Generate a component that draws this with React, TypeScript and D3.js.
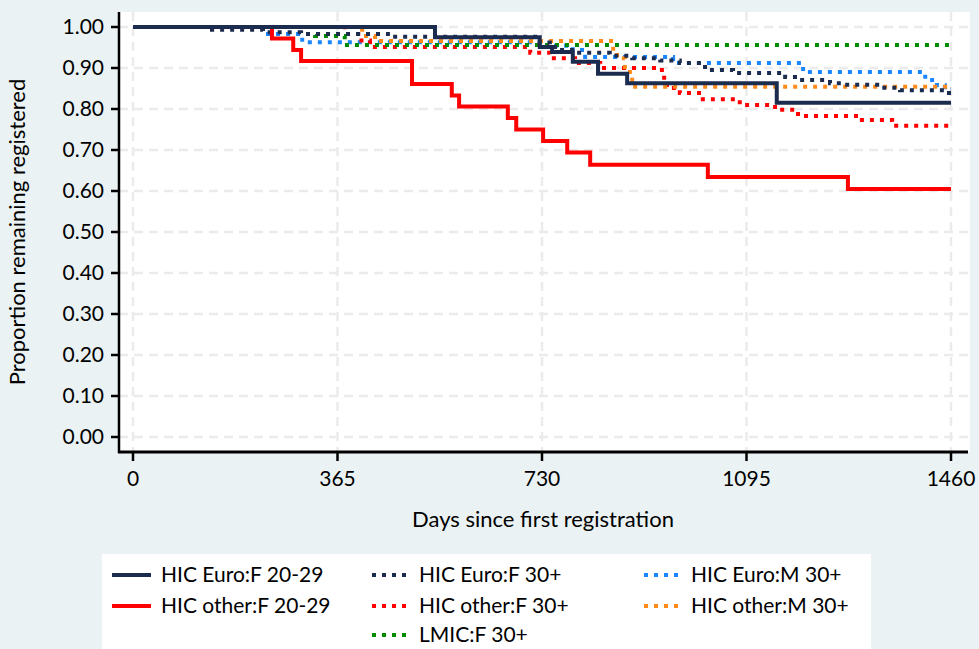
import React from "react"
import * as d3 from "d3"

// step points: [day, proportion] at each change
const hicEuroF2029: [number, number][] = [
  [0, 1], [539, 0.975], [726, 0.951], [748, 0.939], [785, 0.915], [830, 0.886], [882, 0.863], [1149, 0.815], [1460, 0.815],
]
const hicOtherF2029: [number, number][] = [
  [0, 1], [248, 0.972], [286, 0.944], [300, 0.917], [498, 0.861], [569, 0.833], [582, 0.806], [669, 0.778], [684, 0.75],
  [732, 0.722], [775, 0.694], [816, 0.664], [1026, 0.634], [1276, 0.605], [1460, 0.605],
]
const hicEuroF30: [number, number][] = [
  [0, 1], [141, 0.993], [232, 0.987], [300, 0.983], [455, 0.976], [726, 0.962], [744, 0.951], [757, 0.944], [789, 0.937],
  [851, 0.93], [891, 0.924], [941, 0.918], [976, 0.912], [1021, 0.895], [1071, 0.888], [1164, 0.878], [1190, 0.871],
  [1244, 0.863], [1271, 0.859], [1333, 0.852], [1369, 0.846], [1449, 0.839], [1460, 0.839],
]
const hicOtherF30: [number, number][] = [
  [0, 1], [378, 0.983], [402, 0.967], [423, 0.951], [709, 0.937], [744, 0.924], [789, 0.912], [834, 0.9], [944, 0.876],
  [953, 0.851], [976, 0.839], [1017, 0.824], [1083, 0.81], [1146, 0.798], [1187, 0.783], [1301, 0.773], [1355, 0.759],
  [1460, 0.759],
]
const lmicF30: [number, number][] = [
  [0, 1], [325, 0.978], [378, 0.956], [1460, 0.956],
]
const hicEuroM30: [number, number][] = [
  [0, 1], [236, 0.983], [302, 0.963], [739, 0.954], [785, 0.944], [807, 0.927], [964, 0.912], [1196, 0.89], [1414, 0.871],
  [1435, 0.858], [1449, 0.848], [1460, 0.848],
]
const hicOtherM30: [number, number][] = [
  [0, 1], [409, 0.978], [432, 0.966], [857, 0.941], [864, 0.924], [878, 0.89], [891, 0.854], [1460, 0.854],
]

const xTicks = [0, 365, 730, 1095, 1460]
const yTicks = [0, 0.1, 0.2, 0.3, 0.4, 0.5, 0.6, 0.7, 0.8, 0.9, 1.0]

const series = [
  { name: "HIC Euro:F 20-29", data: hicEuroF2029, color: "#1c2c4f", dotted: false },
  { name: "HIC Euro:F 30+", data: hicEuroF30, color: "#1c2c4f", dotted: true },
  { name: "HIC Euro:M 30+", data: hicEuroM30, color: "#1a86ff", dotted: true },
  { name: "HIC other:F 20-29", data: hicOtherF2029, color: "#ff0000", dotted: false },
  { name: "HIC other:F 30+", data: hicOtherF30, color: "#ff0000", dotted: true },
  { name: "HIC other:M 30+", data: hicOtherM30, color: "#ff8a1a", dotted: true },
  { name: "LMIC:F 30+", data: lmicF30, color: "#008a00", dotted: true },
]

// draw order (later on top)
const drawOrder = ["HIC Euro:M 30+", "HIC other:F 30+", "LMIC:F 30+", "HIC other:M 30+", "HIC Euro:F 30+", "HIC other:F 20-29", "HIC Euro:F 20-29"]

const legendItems = [
  { name: "HIC Euro:F 20-29", col: 0, row: 0 },
  { name: "HIC Euro:F 30+", col: 1, row: 0 },
  { name: "HIC Euro:M 30+", col: 2, row: 0 },
  { name: "HIC other:F 20-29", col: 0, row: 1 },
  { name: "HIC other:F 30+", col: 1, row: 1 },
  { name: "HIC other:M 30+", col: 2, row: 1 },
  { name: "LMIC:F 30+", col: 1, row: 2 },
]

const W = 979, H = 649
const font = "Lato, 'Open Sans', sans-serif"

export default function App() {
  const x = d3.scaleLinear().domain([0, 1460]).range([133, 951])
  const y = d3.scaleLinear().domain([0, 1]).range([437, 27])
  const line = d3.line<[number, number]>().x(d => x(d[0])).y(d => y(d[1])).curve(d3.curveStepAfter)
  const byName = new Map(series.map(s => [s.name, s]))
  const colX = [112, 372, 644]
  const rowY = [575, 606, 635]

  return (
    <>
      <style>{`body{margin:0}`}</style>
      <svg width={W} height={H} style={{ display: "block", fontFamily: font }}>
        <rect width={W} height={H} fill="#eaf2f3" />
        <rect x={119} y={12} width={851} height={440} fill="#ffffff" />
        {yTicks.map(t => (
          <line key={"gy" + t} x1={119} x2={970} y1={y(t)} y2={y(t)} stroke="#ebebeb" strokeWidth={2.5} strokeDasharray="9 6" />
        ))}
        {xTicks.map(t => (
          <line key={"gx" + t} x1={x(t)} x2={x(t)} y1={12} y2={452} stroke="#ebebeb" strokeWidth={2.5} strokeDasharray="9 6" />
        ))}
        {drawOrder.map(n => {
          const s = byName.get(n)!
          return (
            <path key={n} d={line(s.data) || ""} fill="none" stroke={s.color}
              strokeWidth={4}
              strokeDasharray={s.dotted ? "4 6" : undefined} />
          )
        })}
        {/* axes */}
        <line x1={119} x2={119} y1={12} y2={453} stroke="#000" strokeWidth={2.5} />
        <line x1={118} x2={968} y1={452} y2={452} stroke="#000" strokeWidth={3} />
        {yTicks.map(t => (
          <g key={"ty" + t}>
            <line x1={111} x2={119} y1={y(t)} y2={y(t)} stroke="#000" strokeWidth={2.5} />
            <text x={104} y={y(t)} dy="0.35em" textAnchor="end" fontSize={21} fill="#000">{t.toFixed(2)}</text>
          </g>
        ))}
        {xTicks.map(t => (
          <g key={"tx" + t}>
            <line x1={x(t)} x2={x(t)} y1={452} y2={461} stroke="#000" strokeWidth={2.5} />
            <text x={x(t)} y={486} textAnchor="middle" fontSize={21} fill="#000">{t}</text>
          </g>
        ))}
        <text x={543} y={527} textAnchor="middle" fontSize={22} fill="#000">Days since first registration</text>
        <text transform={`translate(25,${y(0.5)}) rotate(-90)`} textAnchor="middle" fontSize={22} fill="#000">Proportion remaining registered</text>
        {/* legend */}
        <rect x={102} y={554} width={769} height={95} fill="#ffffff" />
        {legendItems.map(it => {
          const s = byName.get(it.name)!
          const lx = colX[it.col], ly = rowY[it.row]
          return (
            <g key={it.name}>
              <line x1={lx} x2={lx + 39} y1={ly} y2={ly} stroke={s.color} strokeWidth={4}
                strokeDasharray={s.dotted ? "4 6" : undefined} />
              <text x={lx + (it.col === 0 ? 49 : 47)} y={ly} dy="0.35em" fontSize={21} fill="#000">{it.name}</text>
            </g>
          )
        })}
      </svg>
    </>
  )
}
